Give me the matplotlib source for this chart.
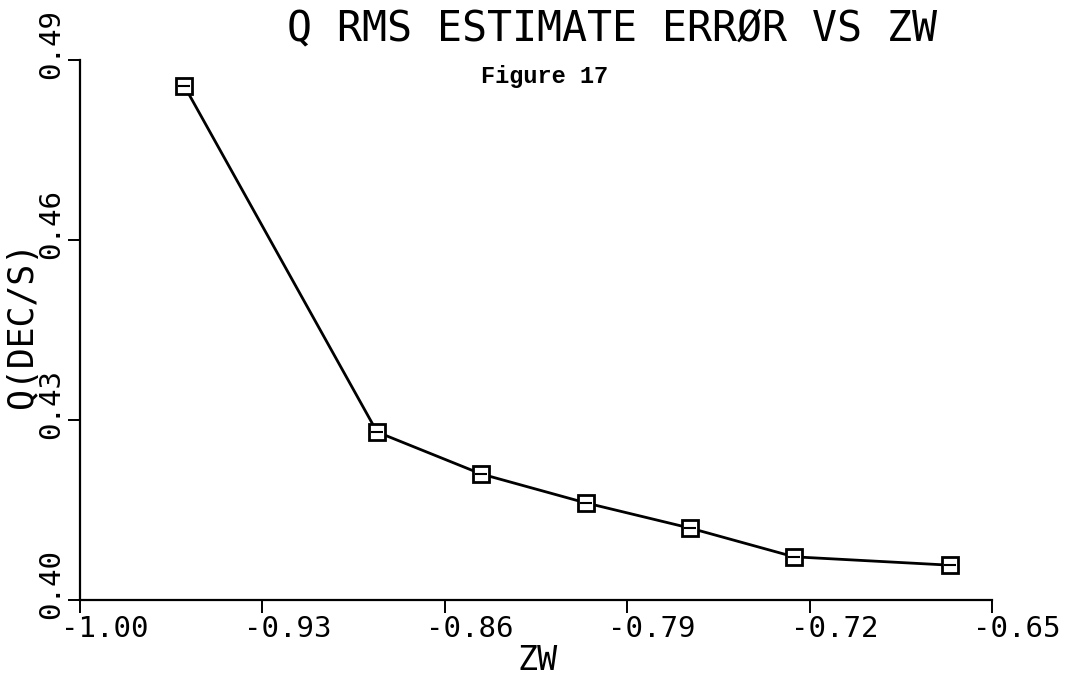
"""Q RMS estimate error vs ZW (Figure 17)."""
import matplotlib
matplotlib.use("Agg")
import matplotlib.pyplot as plt
import matplotlib.transforms as mtransforms

zw = [-0.960, -0.886, -0.846, -0.806, -0.766, -0.726, -0.666]
q_rms = [0.4857, 0.4280, 0.4210, 0.4162, 0.4120, 0.4072, 0.4058]

x_ticks = [-1.00, -0.93, -0.86, -0.79, -0.72, -0.65]
y_ticks = [0.40, 0.43, 0.46, 0.49]

MONO = "DejaVu Sans Mono"

fig = plt.figure(figsize=(10.70, 6.82), dpi=100)
ax = fig.add_axes([80 / 1070, 82 / 682, 912 / 1070, 540 / 682])

ax.plot(zw, q_rms, color="black", linewidth=2, marker="s", markersize=11.5,
        markerfacecolor="white", markeredgecolor="black", markeredgewidth=2)
# the plotter squares carry a short bar through the middle
ax.plot(zw, q_rms, linestyle="none", marker="_", markersize=8,
        markeredgecolor="black", markeredgewidth=1.5)

ax.set_xlim(-1.00, -0.65)
ax.set_ylim(0.40, 0.49)
for side in ("top", "right"):
    ax.spines[side].set_visible(False)
for side in ("left", "bottom"):
    ax.spines[side].set_linewidth(1.6)

ax.set_xticks(x_ticks)
ax.set_xticklabels([f"{v:.2f}" for v in x_ticks], family=MONO, fontsize=21)
ax.set_yticks(y_ticks)
ax.set_yticklabels([f"{v:.2f}" for v in y_ticks], family=MONO, fontsize=21,
                   rotation=90, va="center")
ax.tick_params(axis="both", direction="out", length=9, width=1.4, pad=2)

# plotter labels sit off-centre from their ticks
dx = mtransforms.ScaledTranslation(25 / 100, 0, fig.dpi_scale_trans)
for lab in ax.get_xticklabels():
    lab.set_transform(lab.get_transform() + dx)
dy = mtransforms.ScaledTranslation(0, 16 / 100, fig.dpi_scale_trans)
for lab in ax.get_yticklabels():
    lab.set_transform(lab.get_transform() + dy)

fig.text(612 / 1070, 1 - 28 / 682, "Q RMS ESTIMATE ERRØR VS ZW", family=MONO,
         fontsize=30, ha="center", va="center")
fig.text(545 / 1070, 1 - 77 / 682, "Figure 17", family="Liberation Mono",
         fontweight="bold", fontsize=17, ha="center", va="center")
fig.text(538 / 1070, 1 - 660 / 682, "ZW", family=MONO, fontsize=24,
         ha="center", va="center")
fig.text(22 / 1070, 1 - 325 / 682, "Q(DEC/S)", family=MONO, fontsize=25,
         rotation=90, ha="center", va="center")

fig.savefig("out.png", dpi=100)
